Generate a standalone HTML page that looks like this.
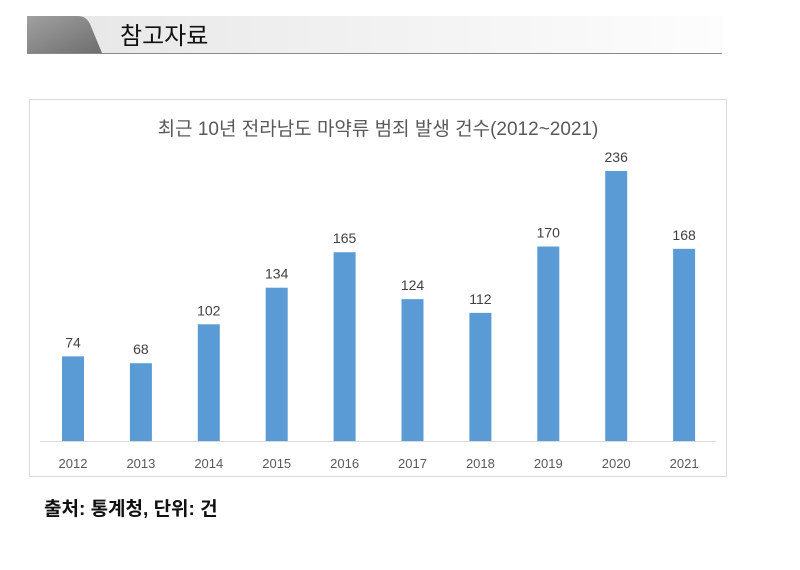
<!DOCTYPE html>
<html><head><meta charset="utf-8"><style>
body{margin:0;width:800px;height:565px;background:#fff;overflow:hidden;font-family:"Liberation Sans","Noto Sans CJK KR",sans-serif;}
</style></head><body>
<svg width="800" height="565" xmlns="http://www.w3.org/2000/svg">
<defs>
<linearGradient id="band" x1="0" x2="1"><stop offset="0" stop-color="#e6e6e6"/><stop offset="1" stop-color="#fdfdfd"/></linearGradient>
<linearGradient id="tab" x1="0" x2="1" y1="0" y2="1"><stop offset="0" stop-color="#a0a0a0"/><stop offset="1" stop-color="#6e6e6e"/></linearGradient>
</defs>
<g>
<rect x="27" y="16" width="695" height="37" fill="url(#band)"/>
<path d="M27 16 L78 16 Q86 16 90 24 L102 53 L27 53 Z" fill="url(#tab)"/>
<line x1="27" y1="53.5" x2="722" y2="53.5" stroke="#8a8a8a" stroke-width="1"/>
<text x="120" y="44" font-size="24" fill="#111">참고자료</text>
</g>
<rect x="29.5" y="99.5" width="697" height="377" fill="#fff" stroke="#d9d9d9"/>
<text x="378" y="135" font-size="19" fill="#595959" text-anchor="middle">최근 10년 전라남도 마약류 범죄 발생 건수(2012~2021)</text>
<line x1="40" y1="441.5" x2="716" y2="441.5" stroke="#d9d9d9"/>
<g id="bars"></g>
<text x="44" y="515" font-size="19" font-weight="bold" fill="#111">출처: 통계청, 단위: 건</text>
</svg>
<script>
const categories=["2012","2013","2014","2015","2016","2017","2018","2019","2020","2021"];
const values=[74,68,102,134,165,124,112,170,236,168];
function xScale(i){return 73+i*67.9;}
function yScale(v){return 441-v*1.144;}
const g=document.getElementById('bars');
const ns="http://www.w3.org/2000/svg";
categories.forEach((c,i)=>{
  const x=xScale(i),y=yScale(values[i]);
  const r=document.createElementNS(ns,'rect');
  r.setAttribute('x',x-11);r.setAttribute('y',y);r.setAttribute('width',22);r.setAttribute('height',441-y);
  r.setAttribute('fill','#5b9bd5');
  
  
  g.appendChild(r);
  const t=document.createElementNS(ns,'text');
  t.setAttribute('x',x);t.setAttribute('y',y-9);t.setAttribute('text-anchor','middle');
  t.setAttribute('font-size','14');t.setAttribute('fill','#404040');t.textContent=values[i];
  
  
  g.appendChild(t);
  const l=document.createElementNS(ns,'text');
  l.setAttribute('x',x);l.setAttribute('y',468);l.setAttribute('text-anchor','middle');
  l.setAttribute('font-size','13');l.setAttribute('fill','#595959');l.textContent=c;
  
  
  g.appendChild(l);
});
</script>
</body></html>
